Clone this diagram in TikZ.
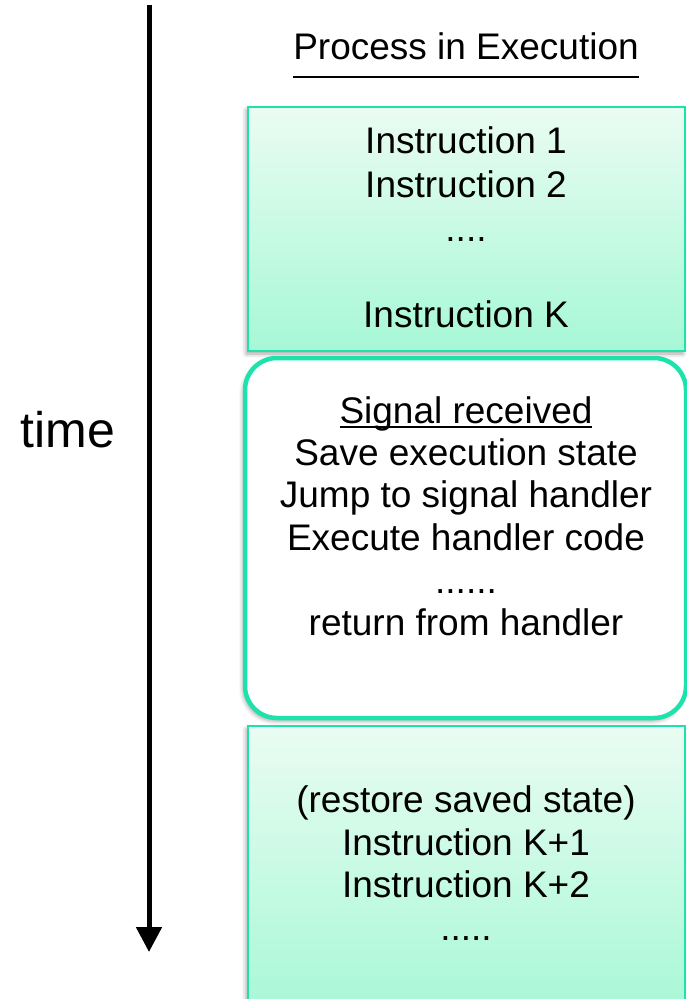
\documentclass[tikz,border=0pt]{standalone}
\usepackage{fontspec}
\setmainfont{Liberation Sans}
\usetikzlibrary{arrows.meta,shadows.blur}
\definecolor{mintedge}{RGB}{29,227,171}
\definecolor{minttop}{RGB}{234,252,242}
\definecolor{mintbot}{RGB}{166,248,214}
% underline at a given depth below the baseline
\newcommand{\undl}[2]{\setbox0\hbox{#2}\rlap{\rule[-#1]{\wd0}{2pt}}\box0}

\begin{document}
\begin{tikzpicture}[x=1pt, y=-1pt,
    txt/.style={anchor=base, font=\fontsize{37}{44}\selectfont},
    boxshadow/.style={blur shadow={shadow xshift=-2pt, shadow yshift=-3pt, shadow blur radius=4pt, shadow opacity=35}},
    procbox/.style={draw=mintedge, line width=1.8pt, top color=minttop, bottom color=mintbot, minimum width=437pt, inner sep=0pt, boxshadow},
    sigbox/.style={draw=mintedge, line width=4.5pt, fill=white, rounded corners=32pt, minimum width=441pt, minimum height=360pt, inner sep=0pt, boxshadow},
    timeline/.style={line width=5pt, -{Triangle[width=25pt,length=25pt]}}]
    \useasboundingbox (0,0) rectangle (687,999);
    \clip (0,0) rectangle (687,999);

    % time axis
    \coordinate (tstart) at (149,5);
    \coordinate (tend) at (149,952);
    \draw [timeline] (tstart) -- (tend);
    \node [anchor=base, font=\fontsize{50}{54}\selectfont] (tlabel) at (68,447) {time};

    % title
    \node [txt] (title) at (466,59) {\undl{19pt}{Process in Execution}};

    % boxes
    \node [procbox, minimum height=244pt] (before) at (466.5,229) {};
    \node [sigbox] (signal) at (465.5,538) {};
    \node [procbox, minimum height=290pt] (after) at (466.5,871) {};

    % Before the signal
    \foreach \y/\lab in {153/Instruction 1, 197/Instruction 2, 327/Instruction K} {
        \node [txt] at (466,\y) {\lab};
    }
    \node [txt] (beforedots) at (466,241) {....};

    % Signal handling
    \node [txt] (sigtitle) at (466,423) {\undl{5pt}{Signal received}};
    \foreach \y/\lab in {465/Save execution state, 507/Jump to signal handler, 550/Execute handler code, 635/return from handler} {
        \node [txt] at (466,\y) {\lab};
    }
    \node [txt] (sigdots) at (466,593) {......};

    % After the signal
    \foreach \y/\lab in {812/(restore saved state), 855/Instruction K+1, 897/Instruction K+2} {
        \node [txt] at (466,\y) {\lab};
    }
    \node [txt] (afterdots) at (466,940) {.....};
\end{tikzpicture}
\end{document}
